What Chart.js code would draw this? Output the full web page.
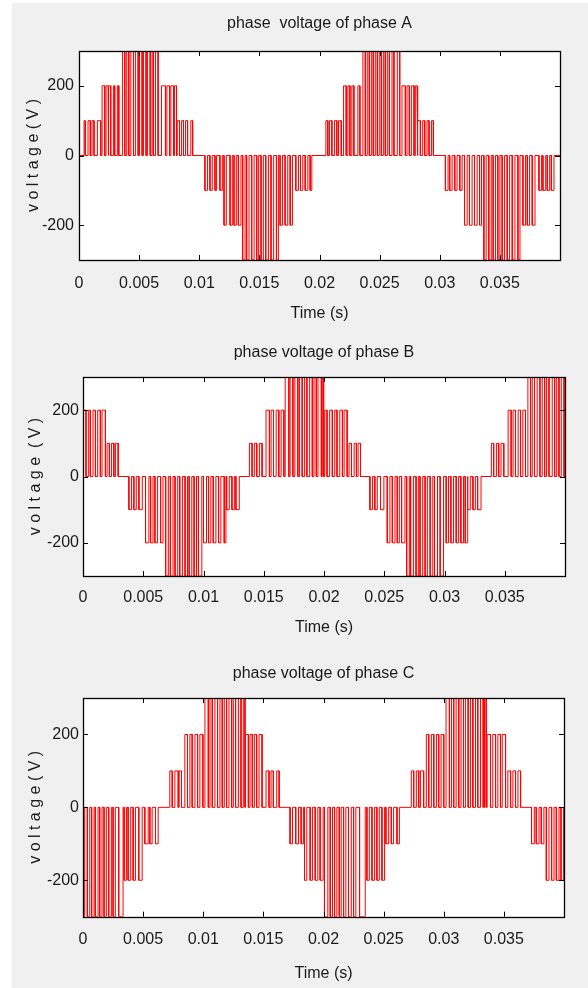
<!DOCTYPE html>
<html>
<head>
<meta charset="utf-8">
<script src="https://cdn.jsdelivr.net/npm/chart.js@4.4.0/dist/chart.umd.min.js"></script>
<style>
body { margin:0; background:#fff; }
#page { position:relative; width:588px; height:988px; overflow:hidden; }
#bg { position:absolute; left:12px; top:3px; right:0; bottom:0; background:#f0f0f0; }
canvas { position:absolute; left:0; }
</style>
</head>
<body>
<div id="page">
<div id="bg"></div>
<canvas id="chartA" width="588" height="330" style="top:0px"></canvas>
<canvas id="chartB" width="588" height="320" style="top:330px"></canvas>
<canvas id="chartC" width="588" height="338" style="top:650px"></canvas>
</div>
<script>
// axis ticks
var xTicks = [0, 0.005, 0.01, 0.015, 0.02, 0.025, 0.03, 0.035];
var xTickLabels = ['0', '0.005', '0.01', '0.015', '0.02', '0.025', '0.03', '0.035'];
var yTicks = [-200, 0, 200];
var yTickLabels = ['-200', '0', '200'];

// pulses: [start ms, end ms, level V]
var phaseA = [
  [0.42,0.52,100],[0.75,0.94,100],[1.08,1.25,100],[1.53,1.81,100],
  [1.92,2.14,200],[2.25,2.42,200],[2.47,2.64,200],[2.86,2.97,200],[3.19,3.31,200],
  [3.61,3.81,300],[3.97,4.14,300],[4.31,4.53,300],[4.69,4.92,300],[5.03,5.25,300],[5.36,5.58,300],[5.69,5.92,300],[6.08,6.19,300],[6.36,6.58,300],
  [6.86,7.19,200],[7.31,7.53,200],[7.64,7.86,200],[7.94,8.11,200],
  [8.17,8.36,100],[8.53,8.69,100],[8.86,9.03,100],[9.30,9.45,100],
  [10.47,10.69,-100],[10.89,11.08,-100],[11.31,11.44,-100],[11.72,11.92,-100],
  [12.06,12.25,-200],[12.56,12.75,-200],[12.89,13.08,-200],[13.25,13.47,-200],
  [13.61,13.81,-300],[13.94,14.14,-300],[14.36,14.56,-300],[14.78,14.94,-300],[15.14,15.33,-300],[15.53,15.75,-300],[15.97,16.19,-300],[16.42,16.58,-300],
  [16.72,16.92,-200],[17.14,17.36,-200],[17.56,17.75,-200],
  [18.03,18.25,-100],[18.42,18.61,-100],[18.81,19.03,-100],[19.22,19.36,-100],
  [20.53,20.69,100],[20.83,21.03,100],[21.25,21.44,100],[21.58,21.81,100],
  [22.00,22.22,200],[22.36,22.53,200],[22.69,22.86,200],[23.19,23.36,200],
  [23.61,23.81,300],[23.97,24.14,300],[24.31,24.47,300],[24.64,24.81,300],[24.97,25.14,300],[25.31,25.47,300],[25.64,25.81,300],[26.03,26.19,300],[26.47,26.67,300],
  [26.86,27.14,200],[27.28,27.47,200],[27.64,27.86,200],[27.97,28.11,200],
  [28.19,28.39,100],[28.58,28.75,100],[28.94,29.11,100],[29.31,29.47,100],
  [30.47,30.69,-100],[30.83,31.03,-100],[31.25,31.44,-100],[31.67,31.86,-100],
  [32.06,32.28,-200],[32.47,32.69,-200],[32.89,33.11,-200],[33.31,33.47,-200],
  [33.67,33.86,-300],[34.08,34.28,-300],[34.44,34.64,-300],[34.83,35.00,-300],[35.19,35.39,-300],[35.61,35.81,-300],[36.03,36.25,-300],[36.50,36.67,-300],
  [36.92,37.14,-200],[37.28,37.47,-200],[37.69,37.92,-200],
  [38.25,38.47,-100],[38.58,38.81,-100],[38.94,39.14,-100],[39.28,39.50,-100]
];

var phaseB = [
  [0.00,0.25,200],[0.47,0.61,200],[0.83,1.03,200],[1.22,1.44,200],[1.58,1.86,200],
  [2.00,2.19,100],[2.36,2.56,100],[2.69,2.92,100],
  [3.81,4.03,-100],[4.22,4.42,-100],[4.64,4.92,-100],
  [5.19,5.47,-200],[5.61,5.81,-200],[5.97,6.19,-200],[6.44,6.64,-200],
  [6.86,7.08,-300],[7.25,7.47,-300],[7.64,7.86,-300],[8.03,8.25,-300],[8.47,8.67,-300],[8.81,9.03,-300],[9.22,9.42,-300],[9.58,9.86,-300],
  [10.00,10.25,-200],[10.42,10.61,-200],[10.81,11.03,-200],[11.25,11.44,-200],[11.72,11.86,-200],
  [11.92,12.14,-100],[12.36,12.56,-100],[12.69,12.97,-100],
  [13.81,14.03,100],[14.22,14.42,100],[14.64,14.86,100],
  [15.19,15.47,200],[15.61,15.81,200],[16.03,16.25,200],[16.44,16.67,200],
  [16.78,17.08,300],[17.19,17.42,300],[17.58,17.83,300],[17.97,18.19,300],[18.39,18.58,300],[18.81,19.03,300],[19.17,19.36,300],[19.50,19.78,300],[19.86,19.97,300],
  [20.06,20.25,200],[20.47,20.69,200],[20.89,21.08,200],[21.31,21.53,200],[21.67,21.92,200],
  [22.08,22.28,100],[22.50,22.69,100],[22.83,23.03,100],
  [23.81,24.03,-100],[24.22,24.42,-100],[24.69,24.97,-100],
  [25.25,25.47,-200],[25.67,25.89,-200],[26.08,26.25,-200],[26.44,26.72,-200],
  [26.86,27.08,-300],[27.19,27.42,-300],[27.64,27.83,-300],[27.97,28.19,-300],[28.39,28.58,-300],[28.81,29.03,-300],[29.17,29.42,-300],[29.64,29.92,-300],
  [30.14,30.33,-200],[30.53,30.75,-200],[30.97,31.17,-200],[31.36,31.58,-200],[31.72,31.90,-200],
  [31.94,32.14,-100],[32.36,32.56,-100],[32.75,33.03,-100],
  [33.89,34.08,100],[34.31,34.50,100],[34.69,34.92,100],
  [35.28,35.53,200],[35.69,35.89,200],[36.11,36.31,200],[36.50,36.72,200],
  [36.92,37.14,300],[37.28,37.47,300],[37.69,37.92,300],[38.11,38.31,300],[38.47,38.67,300],[38.94,39.14,300],[39.31,39.50,300],[39.69,39.92,300]
];

var phaseC = [
  [0.02,0.14,-300],[0.36,0.56,-300],[0.72,0.92,-300],[1.03,1.25,-300],[1.39,1.58,-300],[1.75,1.94,-300],[2.14,2.36,-300],[2.50,2.69,-300],[2.97,3.33,-300],
  [3.42,3.61,-200],[3.75,3.97,-200],[4.17,4.36,-200],[4.64,4.92,-200],
  [5.14,5.42,-100],[5.56,5.75,-100],[6.03,6.25,-100],
  [7.22,7.42,100],[7.64,7.92,100],[8.00,8.19,100],
  [8.47,8.69,200],[8.89,9.08,200],[9.31,9.53,200],[9.72,9.97,200],
  [10.14,10.42,300],[10.56,10.75,300],[10.97,11.19,300],[11.39,11.58,300],[11.75,11.94,300],[12.14,12.36,300],[12.50,12.69,300],[12.92,13.14,300],[13.33,13.47,300],
  [13.50,13.75,200],[13.89,14.08,200],[14.25,14.44,200],[14.64,14.89,200],
  [15.22,15.47,100],[15.64,15.83,100],[16.11,16.31,100],
  [17.22,17.42,-100],[17.69,17.92,-100],[18.14,18.33,-100],
  [18.42,18.61,-200],[18.89,19.08,-200],[19.31,19.53,-200],[19.72,19.97,-200],
  [20.08,20.36,-300],[20.56,20.75,-300],[20.92,21.11,-300],[21.31,21.47,-300],[21.67,21.86,-300],[22.08,22.31,-300],[22.50,22.69,-300],[23.00,23.47,-300],
  [23.61,23.81,-200],[24.03,24.25,-200],[24.44,24.64,-200],[24.86,25.08,-200],
  [25.19,25.42,-100],[25.64,25.83,-100],[26.11,26.31,-100],
  [27.30,27.50,100],[27.72,27.92,100],[28.06,28.33,100],
  [28.55,28.75,200],[28.97,29.17,200],[29.39,29.58,200],[29.78,30.00,200],
  [30.19,30.47,300],[30.64,30.83,300],[31.03,31.25,300],[31.44,31.64,300],[31.80,32.03,300],[32.22,32.42,300],[32.64,32.83,300],[33.06,33.28,300],[33.39,33.53,300],
  [33.61,33.89,200],[34.08,34.31,200],[34.50,34.72,200],[34.86,35.14,200],
  [35.33,35.56,100],[35.75,35.97,100],[36.17,36.39,100],
  [37.30,37.53,-100],[37.69,37.92,-100],[38.11,38.33,-100],
  [38.53,38.75,-200],[38.97,39.17,-200],[39.36,39.58,-200],[39.75,39.97,-200]
];

var FONT = "'Liberation Sans', Arial, sans-serif";
var TXT = '#1a1a1a';

// turn pulse list into step points (ms -> s)
function stepPoints(pulses) {
  var pts = [{x: 0, y: 0}];
  pulses.forEach(function (p) {
    var t0 = p[0] / 1000, t1 = p[1] / 1000;
    pts.push({x: t0, y: 0}, {x: t0, y: p[2]}, {x: t1, y: p[2]}, {x: t1, y: 0});
  });
  pts.push({x: 0.04, y: 0});
  return pts;
}

// white plot area, black box and inward tick marks like matlab
var framePlugin = {
  id: 'frame',
  beforeDraw: function (chart) {
    var a = chart.chartArea, ctx = chart.ctx;
    ctx.save();
    ctx.fillStyle = '#fff';
    ctx.fillRect(a.left, a.top, a.right - a.left, a.bottom - a.top);
    ctx.restore();
  },
  afterDatasetsDraw: function (chart) {
    var a = chart.chartArea, ctx = chart.ctx;
    var x = chart.scales.x, y = chart.scales.y;
    ctx.save();
    ctx.strokeStyle = '#000';
    ctx.lineWidth = 1;
    ctx.beginPath();
    xTicks.forEach(function (v) {
      var px = Math.round(x.getPixelForValue(v)) + 0.5;
      ctx.moveTo(px, a.top); ctx.lineTo(px, a.top + 5);
      ctx.moveTo(px, a.bottom); ctx.lineTo(px, a.bottom - 5);
    });
    yTicks.forEach(function (v) {
      var py = Math.round(y.getPixelForValue(v)) + 0.5;
      ctx.moveTo(a.left, py); ctx.lineTo(a.left + 5, py);
      ctx.moveTo(a.right, py); ctx.lineTo(a.right - 5, py);
    });
    ctx.stroke();
    ctx.lineWidth = 1.3;
    ctx.strokeRect(Math.round(a.left) + 0.5, Math.round(a.top) + 0.5, Math.round(a.right - a.left), Math.round(a.bottom - a.top));
    ctx.restore();
  }
};

function makeChart(id, title, yTitle, pulses, L) {
  var font = {family: FONT, size: 16, weight: 'normal'};
  return new Chart(document.getElementById(id), {
    type: 'line',
    data: {
      datasets: [{
        data: stepPoints(pulses),
        borderColor: '#ff0000',
        borderWidth: 1,
        pointRadius: 0,
        fill: false,
        tension: 0
      }]
    },
    options: {
      responsive: false,
      animation: false,
      devicePixelRatio: 1,
      layout: {padding: {left: 0, right: L.right, top: 0, bottom: 0}},
      plugins: {
        legend: {display: false},
        tooltip: {enabled: false},
        title: {
          display: true, text: title, fullSize: false, color: TXT, font: font,
          padding: {top: L.tTop, bottom: L.tBottom}
        }
      },
      scales: {
        x: {
          type: 'linear', min: 0, max: 0.04,
          grid: {display: false, drawTicks: false}, border: {display: false},
          afterBuildTicks: function (s) { s.ticks = xTicks.map(function (v) { return {value: v}; }); },
          afterFit: function (s) { s.height = L.xH; },
          ticks: {
            padding: L.xPad, color: TXT, font: font, maxRotation: 0, autoSkip: false,
            callback: function (v, i) { return xTickLabels[i]; }
          },
          title: {display: true, text: 'Time (s)', color: TXT, font: font, padding: {top: 0, bottom: L.xtPad}}
        },
        y: {
          type: 'linear', min: -300, max: 300,
          grid: {display: false, drawTicks: false}, border: {display: false},
          afterBuildTicks: function (s) { s.ticks = yTicks.map(function (v) { return {value: v}; }); },
          afterFit: function (s) { s.width = L.left; },
          ticks: {
            padding: L.yPad, color: TXT, font: font,
            callback: function (v, i) { return yTickLabels[i]; }
          },
          title: {display: true, text: yTitle, color: TXT, font: font, padding: {top: L.ytPad, bottom: 0}}
        }
      }
    },
    plugins: [framePlugin]
  });
}

makeChart('chartA', 'phase  voltage of phase A', 'v o l t a g e ( V )', phaseA,
  {left: 79, right: 28, tTop: 14.4, tBottom: 17.4, xH: 70, xPad: 13.6, xtPad: 6.4, yPad: 5, ytPad: 23.9});
makeChart('chartB', 'phase voltage of phase B', 'v o l t a g e  ( V )', phaseB,
  {left: 83, right: 23, tTop: 12.9, tBottom: 14.9, xH: 74, xPad: 12.4, xtPad: 12.9, yPad: 4, ytPad: 25.9});
makeChart('chartC', 'phase voltage of phase C', 'v o l t a g e ( V )', phaseC,
  {left: 83, right: 24, tTop: 14.4, tBottom: 14.4, xH: 71.3, xPad: 13.5, xtPad: 4.9, yPad: 4, ytPad: 26.4});
</script>
</body>
</html>
